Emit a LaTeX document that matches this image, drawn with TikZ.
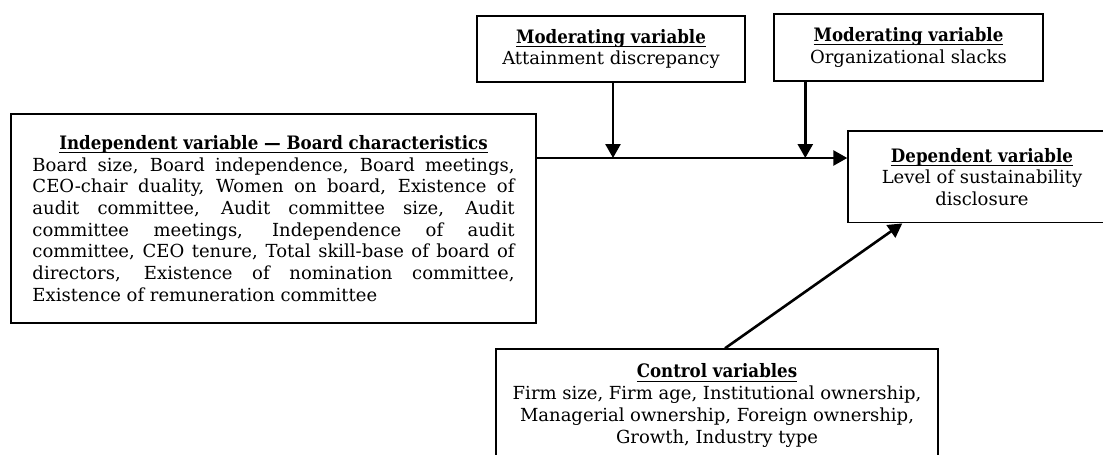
\documentclass[tikz,border=0pt]{standalone}
\usepackage{fontspec}
\setmainfont{DejaVuSerif.ttf}[BoldFont=DejaVuSerifCondensed-Bold.ttf]
\usetikzlibrary{arrows.meta}
\newsavebox{\hdrbox}
\newcommand{\hdr}[1]{\sbox{\hdrbox}{\fontsize{9.25}{10.85}\selectfont\textbf{#1}}%
  \rlap{\rule[-1.8pt]{\wd\hdrbox}{0.5pt}}\usebox{\hdrbox}}
\newlength{\bodyw}
\setlength{\bodyw}{241pt}
\newcommand{\jline}[1]{\makebox[\bodyw][s]{#1}}
\begin{document}
\begin{tikzpicture}[x=0.5pt,y=-0.5pt,
  box/.style={draw=black,line width=0.7pt,inner sep=0pt,align=center,
    font=\fontsize{9}{10.85}\selectfont},
  arr/.style={line width=1.3pt,-{Triangle[length=7pt,width=7.5pt]}}]
\fill[white] (0,0) rectangle (1103,455);
\useasboundingbox (0,0) rectangle (1103,455);
\coordinate (mline) at (0,158);
\node[box,minimum width=262.5pt,minimum height=104.5pt] (indep) at (273.5,218.5)
 {\makebox[\bodyw][c]{\hdr{Independent variable — Board characteristics}}\\
  \jline{Board size, Board independence, Board meetings,}\\
  \jline{CEO-chair duality, Women on board, Existence of}\\
  \jline{audit committee, Audit committee size, Audit}\\
  \jline{committee meetings, Independence of audit}\\
  \jline{committee, CEO tenure, Total skill-base of board of}\\
  \jline{directors, Existence of nomination committee,}\\
  \makebox[\bodyw][l]{Existence of remuneration committee}};
\node[box,minimum width=134pt,minimum height=33pt] (mod1) at (611,49)
 {\hdr{Moderating variable}\\Attainment discrepancy};
\node[box,minimum width=134.5pt,minimum height=33.5pt] (mod2) at (908.5,47.5)
 {\hdr{Moderating variable}\\Organizational slacks};
\node[box,minimum width=134pt,minimum height=45.9pt] (dep) at (982,176.8)
 {\hdr{Dependent variable}\\Level of sustainability\\disclosure};
\node[box,minimum width=221pt,minimum height=56.5pt] (ctrl) at (717,405.5)
 {\hdr{Control variables}\\Firm size, Firm age, Institutional ownership,\\Managerial ownership, Foreign ownership,\\Growth, Industry type};
\draw[arr] (indep.east |- mline) -- (dep.west |- mline);
\draw[arr] ([xshift=1pt]mod1.south) -- ([xshift=1pt]mod1.south |- mline);
\draw[arr] ([xshift=16pt]mod2.south west) -- ([xshift=16pt]mod2.south west |- mline);
\draw[arr] ([xshift=4pt]ctrl.north) -- ([xshift=27.5pt]dep.south west);
\end{tikzpicture}
\end{document}
